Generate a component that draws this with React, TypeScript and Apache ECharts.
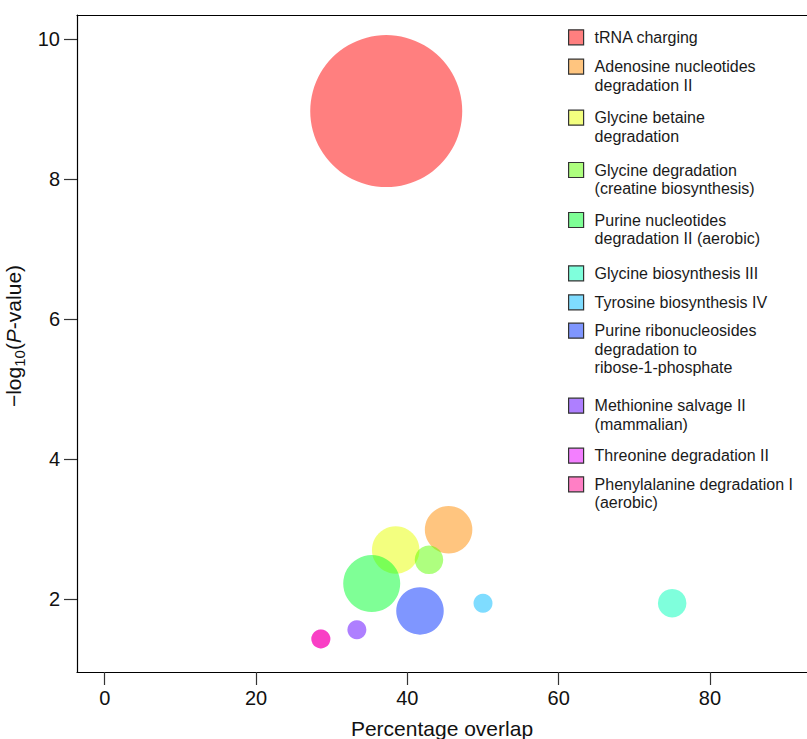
import React, { useEffect, useRef } from "react";
import * as echarts from "echarts";

// ---------- data ----------
const pathways = [
  "tRNA charging",
  "Adenosine nucleotides degradation II",
  "Glycine betaine degradation",
  "Glycine degradation (creatine biosynthesis)",
  "Purine nucleotides degradation II (aerobic)",
  "Glycine biosynthesis III",
  "Tyrosine biosynthesis IV",
  "Purine ribonucleosides degradation to ribose-1-phosphate",
  "Methionine salvage II (mammalian)",
  "Threonine degradation II",
  "Phenylalanine degradation I (aerobic)",
];
const legendLabels = [
  "tRNA charging",
  "Adenosine nucleotides\ndegradation II",
  "Glycine betaine\ndegradation",
  "Glycine degradation\n(creatine biosynthesis)",
  "Purine nucleotides\ndegradation II (aerobic)",
  "Glycine biosynthesis III",
  "Tyrosine biosynthesis IV",
  "Purine ribonucleosides\ndegradation to\nribose-1-phosphate",
  "Methionine salvage II\n(mammalian)",
  "Threonine degradation II",
  "Phenylalanine degradation I\n(aerobic)",
];
const percentOverlap = [37.21, 45.45, 38.46, 42.86, 35.29, 75.0, 50.0, 41.67, 33.33, 28.57, 28.57];
const negLog10P = [8.97, 2.99, 2.7, 2.56, 2.22, 1.94, 1.94, 1.83, 1.56, 1.43, 1.43];
const geneCounts = [16, 5, 5, 3, 6, 3, 2, 5, 2, 2, 2];
const colors = [
  "#FF0000", "#FF8B00", "#E8FF00", "#5DFF00", "#00FF2E", "#00FFB9",
  "#00B9FF", "#002EFF", "#5D00FF", "#E800FF", "#FF008B",
];
const xTicks = [0, 20, 40, 60, 80];
const yTicks = [2, 4, 6, 8, 10];

// ---------- layout ----------
const FONT = "'Liberation Sans', Arial, Helvetica, sans-serif";
const LINE_H = 18.5;
const legendFirstLineCenters = [37.3, 66.7, 117.7, 170, 220, 273.3, 302.3, 330.7, 405.7, 455.7, 484.3];
const PX_PER_GENE = 9.5;

function withAlpha(hex: string, a: number) {
  const r = parseInt(hex.slice(1, 3), 16);
  const g = parseInt(hex.slice(3, 5), 16);
  const b = parseInt(hex.slice(5, 7), 16);
  return `rgba(${r},${g},${b},${a})`;
}

export default function App() {
  const ref = useRef<HTMLDivElement>(null);
  useEffect(() => {
    const chart = echarts.init(ref.current!, null, { renderer: "svg" });

    const series = pathways.map((name, i) => ({
      type: "scatter",
      name,
      data: [[percentOverlap[i], negLog10P[i]]],
      symbol: "circle",
      symbolSize: geneCounts[i] * PX_PER_GENE,
      itemStyle: { color: withAlpha(colors[i], 0.5), opacity: 1 },
      emphasis: { disabled: true },
      silent: true,
    }));

    const legends = pathways.map((name, i) => {
      const n = legendLabels[i].split("\n").length;
      // blank leading lines keep the first text line level with the square
      const label = "\n".repeat(n - 1) + legendLabels[i];
      return {
        data: [name],
        orient: "vertical",
        left: 568,
        top: legendFirstLineCenters[i] - ((2 * n - 1) * LINE_H) / 2,
        padding: 0,
        itemWidth: 15,
        itemHeight: 15,
        icon: "rect",
        selectedMode: false,
        itemStyle: { borderColor: "#333", borderWidth: 1.2 },
        formatter: () => label,
        textStyle: {
          fontFamily: FONT,
          fontSize: 16,
          lineHeight: LINE_H,
          color: "#1a1a1a",
          padding: [0, 0, 0, 6],
        },
      };
    });

    const axisLineStyle = { color: "#000", width: 1.2 };
    const tickStyle = { color: "#333", width: 1.2 };
    const labelStyle = { fontFamily: FONT, fontSize: 20, color: "#111" };

    chart.setOption({
      animation: false,
      backgroundColor: "#fff",
      grid: { left: 77, top: 15, right: 0, bottom: 67, containLabel: false, outerBoundsMode: "none" },
      legend: legends,
      xAxis: [
        {
          type: "value",
          position: "bottom",
          min: -3.66,
          max: 92.82,
          axisLine: { show: true, onZero: false, lineStyle: axisLineStyle },
          axisTick: { show: true, length: 13, customValues: xTicks, lineStyle: tickStyle },
          axisLabel: { customValues: xTicks, margin: 16, ...labelStyle },
          splitLine: { show: false },
          name: "Percentage overlap",
          nameLocation: "middle",
          nameGap: 46,
          nameTextStyle: { fontFamily: FONT, fontSize: 21, color: "#111" },
        },
        {
          type: "value",
          position: "top",
          min: -3.66,
          max: 92.82,
          axisLine: { show: true, onZero: false, lineStyle: axisLineStyle },
          axisTick: { show: false },
          axisLabel: { show: false },
          splitLine: { show: false },
        },
      ],
      yAxis: {
        type: "value",
        min: 0.957,
        max: 10.343,
        axisLine: { show: true, onZero: false, lineStyle: axisLineStyle },
        axisTick: { show: true, length: 13, customValues: yTicks, lineStyle: tickStyle },
        axisLabel: { customValues: yTicks, margin: 17, ...labelStyle },
        splitLine: { show: false },
        name: "{t|\u2212log}{s|10}{t|(}{i|P}{t|-value)}",
        nameLocation: "middle",
        nameGap: 44,
        nameTextStyle: {
          fontFamily: FONT,
          fontSize: 21,
          color: "#111",
          padding: [0, 0, 0, 15],
          rich: {
            t: { fontFamily: FONT, fontSize: 21, color: "#111", verticalAlign: "bottom", lineHeight: 23, padding: [0, 0, 3, 0] },
            i: { fontFamily: FONT, fontSize: 21, color: "#111", fontStyle: "italic", verticalAlign: "bottom", lineHeight: 23, padding: [0, 0, 3, 0] },
            s: { fontFamily: FONT, fontSize: 15, color: "#111", verticalAlign: "bottom", lineHeight: 15 },
          },
        },
      },
      series,
    });

    return () => chart.dispose();
  }, []);

  return (
    <div
      ref={ref}
      style={{ position: "fixed", left: 0, top: 0, width: 807, height: 739 }}
    />
  );
}
